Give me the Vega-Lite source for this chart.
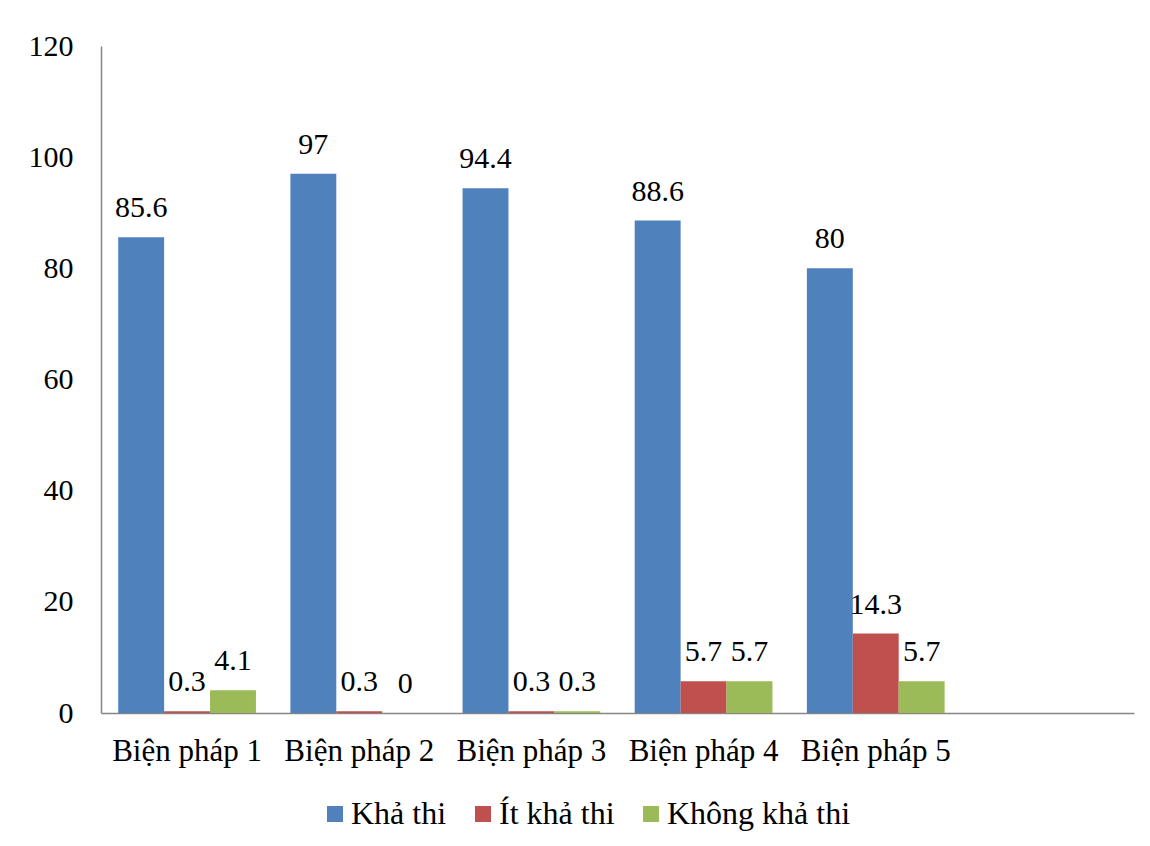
{
  "$schema": "https://vega.github.io/schema/vega-lite/v6.json",
  "width": 1033,
  "height": 667,
  "autosize": {"type": "none"},
  "padding": {"left": 101, "top": 46, "right": 16, "bottom": 133},
  "background": "white",
  "config": {
    "font": "'Liberation Serif', 'DejaVu Serif', serif",
    "view": {"stroke": null},
    "axis": {
      "domainColor": "#868686",
      "domainWidth": 1.5,
      "ticks": false,
      "grid": false,
      "labelFont": "'Liberation Serif', 'DejaVu Serif', serif",
      "labelFontSize": 30,
      "labelColor": "#000000",
      "title": null
    }
  },
  "data": {
    "values": [
      {"measure": "Biện pháp 1", "level": "Khả thi", "value": 85.6},
      {"measure": "Biện pháp 1", "level": "Ít khả thi", "value": 0.3},
      {"measure": "Biện pháp 1", "level": "Không khả thi", "value": 4.1},
      {"measure": "Biện pháp 2", "level": "Khả thi", "value": 97},
      {"measure": "Biện pháp 2", "level": "Ít khả thi", "value": 0.3},
      {"measure": "Biện pháp 2", "level": "Không khả thi", "value": 0},
      {"measure": "Biện pháp 3", "level": "Khả thi", "value": 94.4},
      {"measure": "Biện pháp 3", "level": "Ít khả thi", "value": 0.3},
      {"measure": "Biện pháp 3", "level": "Không khả thi", "value": 0.3},
      {"measure": "Biện pháp 4", "level": "Khả thi", "value": 88.6},
      {"measure": "Biện pháp 4", "level": "Ít khả thi", "value": 5.7},
      {"measure": "Biện pháp 4", "level": "Không khả thi", "value": 5.7},
      {"measure": "Biện pháp 5", "level": "Khả thi", "value": 80},
      {"measure": "Biện pháp 5", "level": "Ít khả thi", "value": 14.3},
      {"measure": "Biện pháp 5", "level": "Không khả thi", "value": 5.7}
    ]
  },
  "encoding": {
    "x": {
      "field": "measure",
      "type": "nominal",
      "scale": {
        "domain": ["Biện pháp 1", "Biện pháp 2", "Biện pháp 3", "Biện pháp 4", "Biện pháp 5", " "],
        "paddingInner": 0.2,
        "paddingOuter": 0.1
      },
      "axis": {"labelAngle": 0, "labelPadding": 23, "labelLimit": 0, "labelFontSize": 31}
    },
    "xOffset": {
      "field": "level",
      "type": "nominal",
      "sort": ["Khả thi", "Ít khả thi", "Không khả thi"],
      "scale": {"paddingInner": 0, "paddingOuter": 0}
    },
    "y": {
      "field": "value",
      "type": "quantitative",
      "scale": {"domain": [0, 120], "nice": false},
      "axis": {"values": [0, 20, 40, 60, 80, 100, 120], "labelPadding": 28}
    }
  },
  "layer": [
    {
      "mark": {"type": "bar"},
      "encoding": {
        "color": {
          "field": "level",
          "type": "nominal",
          "sort": ["Khả thi", "Ít khả thi", "Không khả thi"],
          "scale": {
            "domain": ["Khả thi", "Ít khả thi", "Không khả thi"],
            "range": ["#4F81BD", "#C0504D", "#9BBB59"]
          },
          "legend": {
            "title": null,
            "orient": "none",
            "direction": "horizontal",
            "legendX": 218,
            "legendY": 752,
            "symbolType": "square",
            "symbolSize": 256,
            "symbolStrokeWidth": 0,
            "labelFont": "'Liberation Serif', 'DejaVu Serif', serif",
            "labelFontSize": 32,
            "labelColor": "#000000",
            "labelOffset": 0,
            "labelLimit": 0,
            "columnPadding": 20
          }
        }
      }
    },
    {
      "mark": {"type": "text", "baseline": "alphabetic", "dy": -20, "fontSize": 30, "font": "'Liberation Serif', 'DejaVu Serif', serif", "color": "#000000"},
      "encoding": {
        "text": {"field": "value", "type": "quantitative", "format": ""}
      }
    }
  ]
}
